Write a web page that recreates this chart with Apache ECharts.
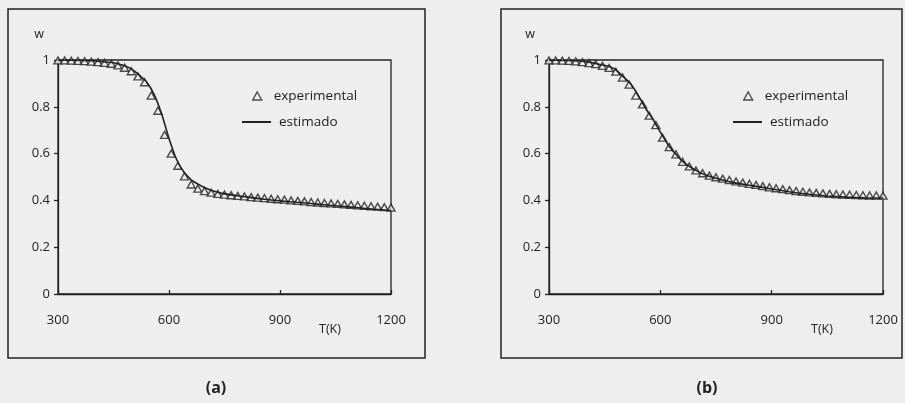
<!DOCTYPE html>
<html>
<head>
<meta charset="utf-8">
<script src="https://cdn.jsdelivr.net/npm/echarts@6/dist/echarts.min.js"></script>
<style>
  html, body { margin: 0; padding: 0; background: #eeeeee; }
  #chart { width: 905px; height: 403px; }
</style>
</head>
<body>
<div id="chart"></div>
<script>
// Pyrolysis curves: residual mass fraction w vs temperature T(K)

const INK = '#222222';
const BG = '#eeeeee';
const FONT = '"Open Sans", "DejaVu Sans", sans-serif';

const panelLabels = ['(a)', '(b)'];

// experimental sampling temperatures (same for both panels)
const tExp = [300, 318, 336, 354, 372, 390, 408, 426, 444, 462, 480, 498, 516, 534, 552,
  570, 588, 606, 624, 642, 660, 678, 696, 714, 732, 750, 768, 786, 804, 822, 840, 858,
  876, 894, 912, 930, 948, 966, 984, 1002, 1020, 1038, 1056, 1074, 1092, 1110, 1128,
  1146, 1164, 1182, 1200];

// panel (a)
const wExpA = [0.998, 0.998, 0.997, 0.996, 0.995, 0.993, 0.991, 0.988, 0.984, 0.977, 0.967,
  0.952, 0.930, 0.905, 0.848, 0.783, 0.680, 0.600, 0.548, 0.503, 0.468, 0.450, 0.440, 0.433,
  0.428, 0.425, 0.422, 0.419, 0.417, 0.414, 0.412, 0.410, 0.407, 0.405, 0.403, 0.400, 0.398,
  0.396, 0.393, 0.391, 0.389, 0.387, 0.385, 0.383, 0.381, 0.379, 0.377, 0.375, 0.373, 0.371, 0.369];
const tEstA = [300, 350, 400, 450, 480, 500, 520, 540, 560, 580, 600, 620, 640, 660, 680,
  700, 720, 750, 800, 850, 900, 950, 1000, 1050, 1100, 1150, 1200];
const wEstA = [1.000, 0.999, 0.996, 0.988, 0.975, 0.960, 0.935, 0.905, 0.852, 0.770, 0.665,
  0.577, 0.521, 0.488, 0.468, 0.452, 0.440, 0.428, 0.417, 0.406, 0.398, 0.391, 0.384, 0.377,
  0.370, 0.363, 0.357];

// panel (b)
const wExpB = [0.998, 0.998, 0.997, 0.996, 0.994, 0.991, 0.987, 0.982, 0.975, 0.966, 0.950,
  0.925, 0.895, 0.848, 0.810, 0.762, 0.722, 0.668, 0.628, 0.597, 0.565, 0.545, 0.528, 0.516,
  0.506, 0.499, 0.493, 0.487, 0.481, 0.476, 0.471, 0.466, 0.461, 0.456, 0.452, 0.448, 0.444,
  0.440, 0.437, 0.434, 0.432, 0.430, 0.428, 0.426, 0.425, 0.424, 0.423, 0.422, 0.421, 0.421, 0.420];
const tEstB = [300, 350, 400, 440, 464, 480, 500, 520, 540, 560, 580, 600, 620, 640, 660,
  680, 700, 720, 760, 800, 850, 900, 950, 1000, 1050, 1100, 1150, 1200];
const wEstB = [1.000, 0.998, 0.993, 0.980, 0.971, 0.958, 0.929, 0.898, 0.850, 0.795, 0.746,
  0.692, 0.640, 0.600, 0.567, 0.543, 0.525, 0.510, 0.490, 0.475, 0.462, 0.449, 0.436, 0.426,
  0.419, 0.414, 0.411, 0.410];

const pairs = (xs, ys) => xs.map((x, i) => [x, ys[i]]);

const grids = [
  { left: 58, top: 60, width: 333, height: 234 },
  { left: 549, top: 60, width: 334, height: 234 },
];
const boxes = [[8, 9, 417, 349], [501, 9, 401, 349]];
const legendText = { color: INK, fontFamily: FONT, fontSize: 13.5 };

const chart = echarts.init(document.getElementById('chart'), null, { renderer: 'canvas' });

const axisX = (i) => ({
  type: 'value', gridIndex: i, min: 300, max: 1200, interval: 300,
  name: 'T(K)', nameLocation: 'end', nameGap: -72,
  nameTextStyle: { color: INK, fontFamily: FONT, fontSize: 12.5, verticalAlign: 'top', padding: [29, 0, 0, 0] },
  axisLine: { lineStyle: { color: INK, width: 1.3 } },
  axisTick: { inside: true, length: 4, lineStyle: { color: INK, width: 1.3 } },
  axisLabel: { color: INK, fontFamily: FONT, fontSize: 13, margin: 20, formatter: v => String(v) },
  splitLine: { show: false },
});
const axisY = (i) => ({
  type: 'value', gridIndex: i, min: 0, max: 1, interval: 0.2,
  name: 'w', nameLocation: 'end', nameGap: 19,
  nameTextStyle: { color: INK, fontFamily: FONT, fontSize: 12.5, align: 'right', padding: [0, 14, 0, 0] },
  axisLine: { lineStyle: { color: INK, width: 1.3 } },
  axisTick: { length: 4, lineStyle: { color: INK, width: 1.3 } },
  axisLabel: { color: INK, fontFamily: FONT, fontSize: 13, margin: 8 },
  splitLine: { show: false },
});

const series = [];
[[wExpA, tEstA, wEstA], [wExpB, tEstB, wEstB]].forEach(([we, te, ws], i) => {
  series.push({
    name: 'experimental', type: 'scatter', xAxisIndex: i, yAxisIndex: i,
    data: pairs(tExp, we), symbol: 'triangle', symbolSize: [8, 7],
    itemStyle: { color: BG, borderColor: INK, borderWidth: 1.4 },
    z: 3,
  });
  series.push({
    name: 'estimado', type: 'line', xAxisIndex: i, yAxisIndex: i,
    data: pairs(te, ws), showSymbol: false, symbol: 'none', smooth: 0.25,
    lineStyle: { color: INK, width: 1.6 }, itemStyle: { color: INK },
    z: 4,
  });
});

// one legend per entry so each icon can have its own size
const legends = [];
[237, 728].forEach((x0) => {
  legends.push({
    left: x0 + 10, top: 84, itemWidth: 9, itemHeight: 8,
    textStyle: Object.assign({ padding: [0, 0, 0, 7] }, legendText),
    data: [{ name: 'experimental', icon: 'triangle',
      itemStyle: { color: BG, borderColor: INK, borderWidth: 1.4 } }],
  });
  legends.push({
    left: x0, top: 110, itemWidth: 29, itemHeight: 2,
    textStyle: Object.assign({ padding: [0, 0, 0, 3] }, legendText),
    data: [{ name: 'estimado', icon: 'rect', itemStyle: { color: INK, borderWidth: 0 } }],
  });
});

chart.setOption({
  backgroundColor: BG,
  animation: false,
  textStyle: { fontFamily: FONT },
  grid: grids.map(g => Object.assign({ show: true, borderColor: INK, borderWidth: 1.3, backgroundColor: 'transparent' }, g)),
  xAxis: [axisX(0), axisX(1)],
  yAxis: [axisY(0), axisY(1)],
  legend: legends,
  graphic: boxes.map(([x, y, w, h]) => ({
    type: 'rect', silent: true, z: -1,
    shape: { x, y, width: w, height: h },
    style: { fill: 'none', stroke: INK, lineWidth: 1.5 },
  })).concat(panelLabels.map((t, i) => ({
    type: 'text', silent: true,
    x: i === 0 ? 216 : 707, y: 388,
    style: { text: t, fill: INK, font: 'bold 16px ' + FONT, align: 'center', verticalAlign: 'middle' },
  }))),
  series,
});
</script>
</body>
</html>
